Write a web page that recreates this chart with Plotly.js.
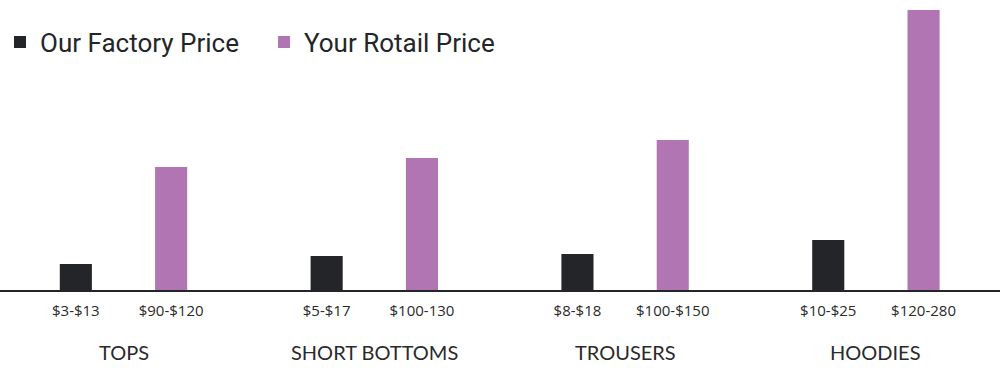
<!DOCTYPE html>
<html><head><meta charset="utf-8">
<script src="https://cdn.plot.ly/plotly-3.0.1.min.js"></script>
<style>html,body{margin:0;padding:0;background:#fff}#chart{width:1000px;height:370px}</style>
</head><body><div id="chart"></div>
<script>
const categories = ["TOPS", "SHORT BOTTOMS", "TROUSERS", "HOODIES"];
const factoryLabels = ["$3-$13", "$5-$17", "$8-$18", "$10-$25"];
const retailLabels = ["$90-$120", "$100-130", "$100-$150", "$120-280"];
// relative bar heights
const factoryValues = [26, 34, 36, 50];
const retailValues = [123, 132, 150, 280];

const off = 0.19;
const idx = categories.map((c, i) => i);
const xF = idx.map(i => i - off);
const xR = idx.map(i => i + off);

const traces = [
  {type: 'bar', name: 'Our Factory Price', x: xF, y: factoryValues, width: 0.128,
   marker: {color: '#232528'}, hoverinfo: 'skip'},
  {type: 'bar', name: 'Your Rotail Price', x: xR, y: retailValues, width: 0.128,
   marker: {color: '#b075b2'}, hoverinfo: 'skip'}
];

const tickvals = [], ticktext = [];
idx.forEach(i => { tickvals.push(xF[i], xR[i]); ticktext.push(factoryLabels[i], retailLabels[i]); });

const annotations = categories.map((c, i) => ({
  x: i, xref: 'x', y: -0.214, yref: 'paper', text: c, showarrow: false,
  xanchor: 'center', yanchor: 'middle',
  font: {family: 'Lato, "Open Sans", sans-serif', size: 20, color: '#2a2a2a'}
}));

const layout = {
  width: 1000, height: 370,
  margin: {l: 0, r: 0, t: 0, b: 80},
  paper_bgcolor: '#fff', plot_bgcolor: 'rgba(0,0,0,0)',
  showlegend: true,
  legend: {orientation: 'h', x: 0, y: 0.855, xanchor: 'left', yanchor: 'middle',
    bgcolor: 'rgba(0,0,0,0)', entrywidth: 219, entrywidthmode: 'pixels',
    font: {family: 'Roboto, sans-serif', size: 26, color: '#232528'}},
  xaxis: {range: [-0.4924, 3.4948], tickmode: 'array', tickvals: tickvals, ticktext: ticktext,
    showgrid: false, zeroline: false, showline: true, linecolor: '#232528', linewidth: 2,
    ticks: '', ticklabelstandoff: 6,
    tickfont: {family: '"Open Sans", sans-serif', size: 15, color: '#2a2a2a'}},
  yaxis: {range: [0, 290], visible: false, showgrid: false, zeroline: false},
  annotations: annotations
};
Plotly.newPlot('chart', traces, layout, {displayModeBar: false, staticPlot: true});
</script></body></html>
